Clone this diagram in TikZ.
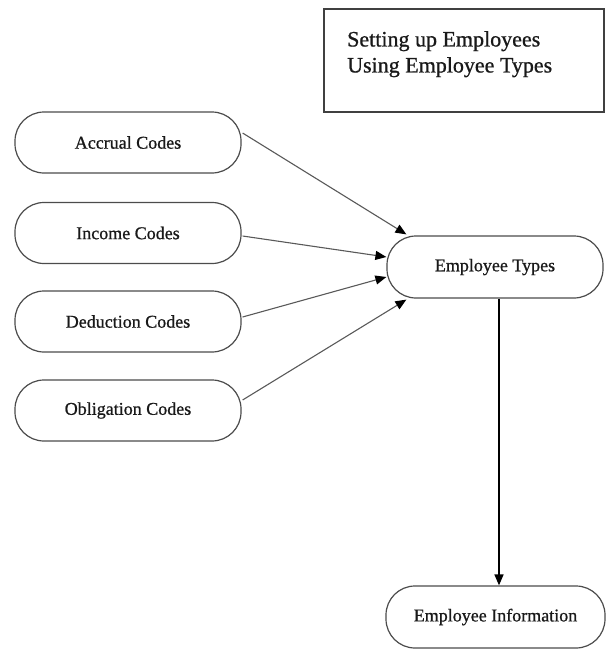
\documentclass[tikz,border=0pt]{standalone}
\usepackage{fontspec}
\setmainfont{Liberation Serif}
\newfontfamily\heavyserif[FakeBold=0.8]{Liberation Serif}
\usetikzlibrary{arrows.meta,calc}
\begin{document}
\begin{tikzpicture}[x=1pt,y=-1pt,
  codebox/.style={draw=black!70,line width=1.2pt,rounded corners=29pt,fill=white,
    minimum height=61pt,inner sep=0pt,font=\heavyserif\fontsize{18}{20}\selectfont,text=black!90},
  link/.style={draw=black!65,line width=1.1pt,-{Triangle[length=11pt,width=9pt,color=black,fill=black]}},
  mainlink/.style={draw=black,line width=1.6pt,-{Triangle[length=11pt,width=9pt]}}]
\useasboundingbox (0,0) rectangle (607,649);
% title box
\node[draw=black!75,line width=1.4pt,minimum width=280pt,minimum height=103pt,inner sep=0pt] (title) at (464,60.5) {};
\node[anchor=north west,inner sep=0pt,align=left,font=\heavyserif\fontsize{22}{26}\selectfont,text=black!90] (titletext) at (347,31) {Setting up Employees\\Using Employee Types};
% left nodes
\node[codebox,minimum width=226pt] (acc) at (128,142.5) {Accrual Codes};
\node[codebox,minimum width=226pt] (inc) at (128,233) {Income Codes};
\node[codebox,minimum width=226pt] (ded) at (128,321.5) {Deduction Codes};
\node[codebox,minimum width=226pt] (obl) at (128,410.5) {Obligation Codes};
% right nodes
\node[codebox,minimum width=216pt,minimum height=62pt] (et) at (495,267) {Employee Types};
\node[codebox,minimum width=219pt,minimum height=62pt] (ei) at (495.5,617) {Employee Information};
% connectors
\draw[link] ($(acc.east)+(1,-9.5)$) -- ($(et.north west)+(20,-1)$);
\draw[link] ($(inc.east)+(1,3)$) -- ($(et.west)+(0,-10)$);
\draw[link] ($(ded.east)+(1,-4.5)$) -- ($(et.west)+(0,10)$);
\draw[link] ($(obl.east)+(1,-10.5)$) -- ($(et.south west)+(20,1)$);
\draw[mainlink] ($(et.south)+(4,0)$) -- ($(ei.north)+(3.5,0)$);
\end{tikzpicture}
\end{document}
